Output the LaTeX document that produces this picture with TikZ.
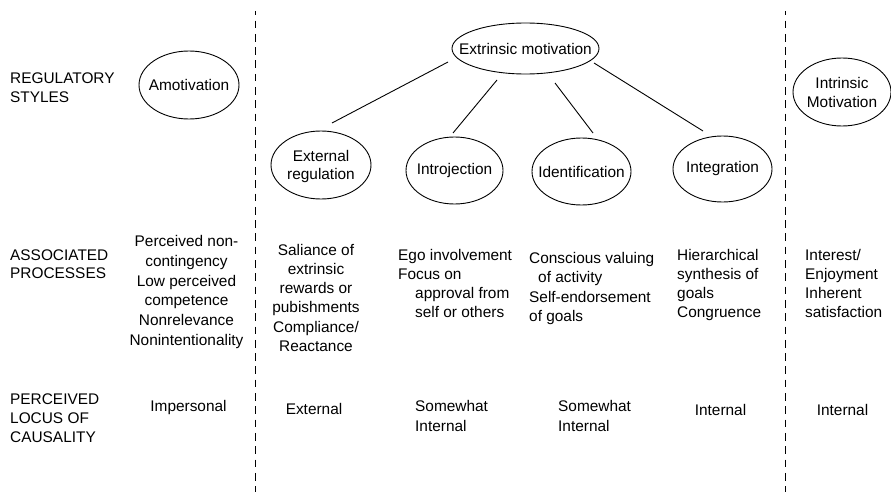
\documentclass[tikz,border=0pt]{standalone}
\usepackage{fontspec}
\setmainfont{Liberation Sans}
\usetikzlibrary{shapes.geometric,calc}
\newcommand{\tl}[3]{{\fontsize{15.4}{#2}\selectfont\begin{tabular}[t]{@{}#1@{}}#3\end{tabular}}}
\begin{document}
\begin{tikzpicture}[x=1pt,y=-1pt,
  font=\fontsize{15.4}{19}\selectfont,
  oval/.style={draw, ellipse, inner sep=0pt, line width=0.9pt},
  ovaltext/.style={inner sep=0pt, align=center},
  conn/.style={line width=0.9pt},
  divider/.style={line width=1pt, dash pattern=on 7.7pt off 5.6pt, dash phase=3.7pt},
  lbl/.style={inner sep=0pt, anchor=base west},
  cell/.style={inner sep=0pt, anchor=base}]
\useasboundingbox (0,0) rectangle (891,492);

% dividers
\coordinate (d1top) at (255,11);
\coordinate (d1bot) at (255,492);
\coordinate (d2top) at (785.5,11);
\coordinate (d2bot) at (785.5,492);
\draw[divider] (d1top) -- (d1bot);
\draw[divider] (d2top) -- (d2bot);

% ellipses
\node[oval, minimum width=100pt, minimum height=68pt] (amot) at (189,85) {};
\node[oval, minimum width=147pt, minimum height=51pt] (extr) at (525.5,48.5) {};
\node[oval, minimum width=100pt, minimum height=68pt] (ext) at (321,165) {};
\node[oval, minimum width=97pt, minimum height=67pt] (intro) at (454.5,170.5) {};
\node[oval, minimum width=99pt, minimum height=67pt] (ident) at (581.5,171.5) {};
\node[oval, minimum width=99pt, minimum height=66pt] (integ) at (722.5,169) {};
\node[oval, minimum width=98pt, minimum height=68pt] (intr) at (842,92) {};

\node[ovaltext] (amotT) at (amot) {Amotivation};
\node[ovaltext] (extrT) at (extr) {Extrinsic motivation};
\node[ovaltext, font=\fontsize{15.4}{18}\selectfont, yshift=-1.5pt] (extT) at (ext) {External\\regulation};
\node[ovaltext] (introT) at (intro) {Introjection};
\node[ovaltext] (identT) at (ident) {Identification};
\node[ovaltext] (integT) at (integ) {Integration};
\node[ovaltext] (intrT) at (intr) {Intrinsic\\Motivation};

% connectors
\draw[conn] ($(extr)+(-77.5,13.5)$) -- ($(ext)+(11,-42)$);
\draw[conn] ($(extr)+(-28.5,31.5)$) -- ($(intro)+(-1.5,-37.5)$);
\draw[conn] ($(extr)+(29.5,34.5)$) -- ($(ident)+(11.5,-38.5)$);
\draw[conn] ($(extr)+(68.5,14.5)$) -- ($(integ)+(-19.5,-38)$);

% row labels
\node[lbl] (regl) at (10,83.3) {\tl{l}{19}{REGULATORY\\STYLES}};
\node[lbl] (assl) at (10,260) {\tl{l}{18.5}{ASSOCIATED\\PROCESSES}};
\node[lbl] (perl) at (10,404) {\tl{l}{19.3}{PERCEIVED\\LOCUS OF\\CAUSALITY}};

% associated processes
\node[cell] (p1) at (186.5,246.7) {\tl{c}{19.7}{Perceived non-\\contingency\\Low perceived\\competence\\Nonrelevance\\Nonintentionality}};
\node[cell] (p2) at (316,255) {\tl{c}{19.3}{Saliance of\\extrinsic\\rewards or\\pubishments\\Compliance/\\Reactance}};
\node[lbl] (p3) at (398,260.5) {\tl{l}{19}{Ego involvement\\Focus on\\\hspace*{17pt}approval from\\\hspace*{17pt}self or others}};
\node[lbl] (p4) at (529,263) {\tl{l}{19.6}{Conscious valuing\\\hspace*{9pt}of activity\\Self-endorsement\\of goals}};
\node[lbl] (p5) at (677,260.5) {\tl{l}{19}{Hierarchical\\synthesis of\\goals\\Congruence}};
\node[lbl] (p6) at (805,260) {\tl{l}{19}{Interest/\\Enjoyment\\Inherent\\satisfaction}};

% perceived locus of causality
\node[cell] (c1) at (188.5,411.5) {Impersonal};
\node[cell] (c2) at (314,414) {External};
\node[lbl] (c3) at (415,411.5) {\tl{l}{19.5}{Somewhat\\Internal}};
\node[lbl] (c4) at (558,411.5) {\tl{l}{19.5}{Somewhat\\Internal}};
\node[cell] (c5) at (720.5,415) {Internal};
\node[cell] (c6) at (842.5,415) {Internal};
\end{tikzpicture}
\end{document}
